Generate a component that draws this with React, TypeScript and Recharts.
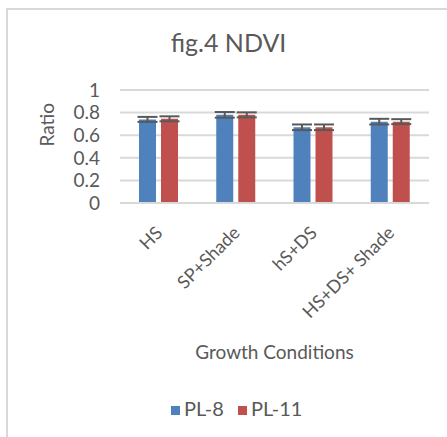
import { Bar, BarChart, CartesianGrid, ErrorBar, Label, Legend, XAxis, YAxis } from "recharts";

const conditions = ["HS", "SP+Shade", "hS+DS", "HS+DS+ Shade"];
const pl8 = [0.74, 0.78, 0.67, 0.72];
const pl11 = [0.745, 0.78, 0.67, 0.72];
const pl8Err = [0.022, 0.025, 0.025, 0.025];
const pl11Err = [0.022, 0.022, 0.025, 0.022];
const yTicks = [0, 0.2, 0.4, 0.6, 0.8, 1];
const seriesOrder = ["PL-8", "PL-11"];

const data = conditions.map((c, i) => ({
  name: c,
  pl8: pl8[i],
  pl11: pl11[i],
  e8: pl8Err[i],
  e11: pl11Err[i],
}));

const FONT = "Lato, 'Liberation Sans', sans-serif";
const GREY = "#595959";

function SlantTick({ x, y, payload }: any) {
  return (
    <text
      x={0}
      y={0}
      transform={`translate(${x + 5},${y + 23}) rotate(-45)`}
      textAnchor="end"
      fill={GREY}
      fontSize={18}
      fontFamily={FONT}
    >
      {payload.value}
    </text>
  );
}

export default function App() {
  return (
    <div style={{ position: "absolute", left: 0, top: 0, width: 447, height: 437, overflow: "hidden", background: "#fff" }}>
      <div style={{ position: "absolute", left: 6, top: 8, width: 470, height: 460, border: "2px solid #d9d9d9", boxSizing: "border-box" }} />
      <div style={{ position: "absolute", left: 0, top: 0, width: 447, textAlign: "center", fontFamily: FONT, fontSize: 25, color: GREY, paddingTop: 27, paddingLeft: 10, boxSizing: "border-box" }}>
        fig.4 NDVI
      </div>
      <BarChart
        width={447}
        height={437}
        data={data}
        margin={{ top: 66, right: 18, bottom: 0, left: 0 }}
        barGap={5}
        barSize={17}
        style={{ position: "absolute", left: 0, top: 0 }}
      >
        <CartesianGrid vertical={false} stroke="#d9d9d9" strokeWidth={2} />
        <XAxis
          dataKey="name"
          axisLine={{ stroke: "#d9d9d9", strokeWidth: 2 }}
          tickLine={false}
          tick={<SlantTick />}
          interval={0}
          height={234}
        >
          <Label value="Growth Conditions" position="insideTop" offset={143} fill={GREY} fontSize={19} fontFamily={FONT} />
        </XAxis>
        <YAxis
          domain={[0, 1]}
          ticks={yTicks}
          interval={0}
          width={120}
          axisLine={false}
          tickLine={false}
          tickMargin={14}
          tick={{ fill: GREY, fontSize: 19, fontFamily: FONT }}
        >
          <Label value="Ratio" angle={-90} position="insideLeft" offset={47} fill={GREY} fontSize={19} fontFamily={FONT} />
        </YAxis>
        <Legend
          verticalAlign="top"
          align="left"
          iconType="square"
          iconSize={9}
          itemSorter={(item: any) => seriesOrder.indexOf(item.value)}
          wrapperStyle={{ top: 396, left: 171, width: 150, fontFamily: FONT, fontSize: 20 }}
          formatter={(v: string) => <span style={{ color: GREY, marginRight: 4 }}>{v}</span>}
        />
        <Bar dataKey="pl8" name="PL-8" fill="#4F81BD" isAnimationActive={false}>
          <ErrorBar dataKey="e8" width={10} strokeWidth={2} stroke={GREY} />
        </Bar>
        <Bar dataKey="pl11" name="PL-11" fill="#C0504D" isAnimationActive={false}>
          <ErrorBar dataKey="e11" width={10} strokeWidth={2} stroke={GREY} />
        </Bar>
      </BarChart>
    </div>
  );
}
